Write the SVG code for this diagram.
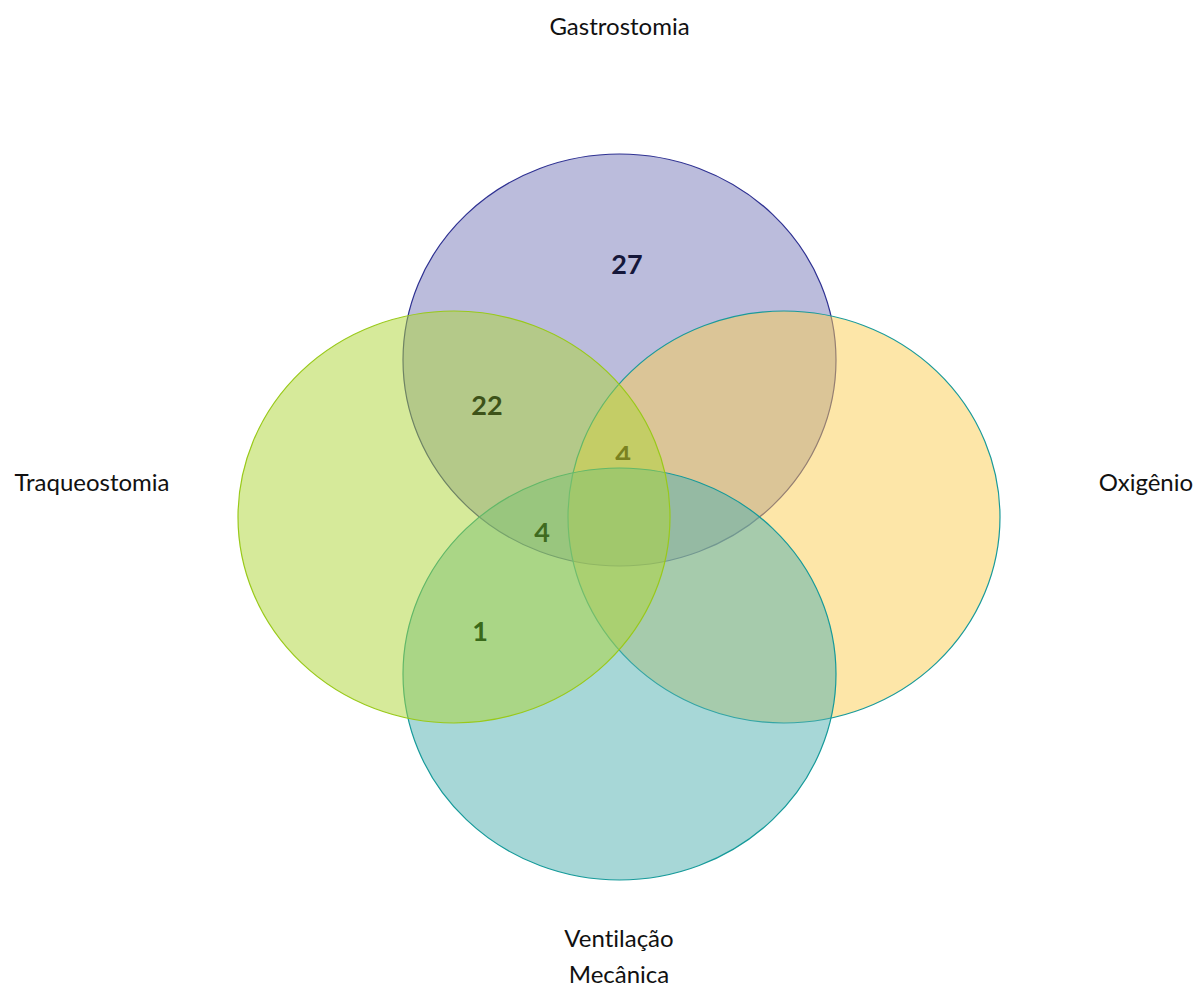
<svg xmlns="http://www.w3.org/2000/svg" width="1197" height="988" viewBox="0 0 1197 988">
<style>
.lbl{font-family:Lato,"Open Sans","Liberation Sans",sans-serif;font-size:24px;fill:#111;text-anchor:middle;font-variant-ligatures:none}
.num{font-family:Lato,"Open Sans","Liberation Sans",sans-serif;font-size:27px;font-weight:bold;text-anchor:middle}
.set{fill-opacity:0.5;stroke-width:1.2}
</style>
<defs>
<clipPath id="clipTop4"><rect x="590" y="420" width="70" height="40"/></clipPath>
</defs>
<rect width="1197" height="988" fill="#fff"/>
<g id="gastrostomia"><ellipse class="set" cx="619.5" cy="360" rx="216.5" ry="206" fill="#7779B9" stroke="#2E3192"/></g>
<g id="oxigenio"><ellipse class="set" cx="784" cy="517" rx="216" ry="206" fill="#FBCD51" stroke="#1A9A9A"/></g>
<g id="ventilacao"><ellipse class="set" cx="619.5" cy="674" rx="216.5" ry="206" fill="#4FB0B0" stroke="#169A9A"/></g>
<g id="traqueostomia"><ellipse class="set" cx="454" cy="517" rx="216" ry="206" fill="#ADD535" stroke="#99C91A"/></g>
<g id="connectors"></g>
<g id="labels">
<text class="lbl" x="619.5" y="35">Gastrostomia</text>
<text class="lbl" x="92" y="491">Traqueostomia</text>
<text class="lbl" x="1146" y="491">Oxigênio</text>
<text class="lbl" x="619" y="947">Ventilação</text>
<text class="lbl" x="619" y="983">Mecânica</text>
</g>
<g id="numbers">
<text class="num" x="627" y="274" fill="#15173A">27</text>
<text class="num" x="487" y="415" fill="#3D5219">22</text>
<text class="num" x="623" y="465" fill="#7A8220" clip-path="url(#clipTop4)">4</text>
<text class="num" x="542" y="542" fill="#3F6B1F">4</text>
<text class="num" x="480" y="641" fill="#3A6A1A">1</text>
</g>
</svg>
